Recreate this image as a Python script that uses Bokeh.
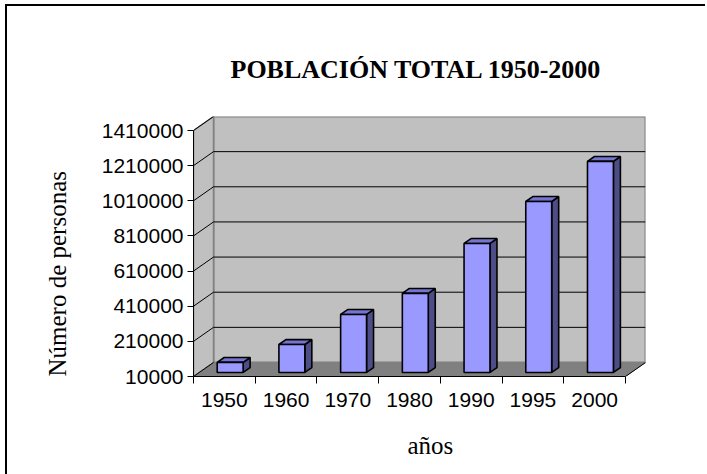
from bokeh.plotting import figure
from bokeh.models import FixedTicker, Range1d, LinearAxis, Title, BasicTickFormatter
from bokeh.embed import file_html
from bokeh.resources import INLINE

# ---- data ----
years = ["1950", "1960", "1970", "1980", "1990", "1995", "2000"]
population = [67000, 169000, 340000, 460000, 744000, 983000, 1211000]
y_ticks = [10000, 210000, 410000, 610000, 810000, 1010000, 1210000, 1410000]
title_text = "POBLACIÓN TOTAL 1950-2000"
y_label = "Número de personas"
x_label = "años"

# ---- geometry / style constants ----
n = len(years)
y0, ytop = y_ticks[0], y_ticks[-1]
FRONT_W, FRONT_H = 432, 246          # px of the front plane
DX_PX, DY_PX = 20, 14                # depth offset in px
dxd = DX_PX * n / FRONT_W
dyd = DY_PX * (ytop - y0) / FRONT_H
F0, F1 = 0.29, 0.64                  # bar depth fractions
HW = 0.21                            # bar half width (category units)

p = figure(frame_width=FRONT_W + DX_PX, frame_height=FRONT_H + DY_PX,
           min_border_left=186, min_border_right=60, min_border_top=110, min_border_bottom=60,
           x_range=Range1d(0, n + dxd), y_range=Range1d(y0, ytop + dyd),
           output_backend="svg", toolbar_location=None, x_axis_type=None, y_axis_type=None)
p.outline_line_color = None
p.background_fill_color = "white"
p.border_fill_color = "white"
p.xgrid.visible = False
p.ygrid.visible = False
p.styles = {"border-left": "2px solid black", "border-top": "2px solid black",
            "margin-left": "5px", "margin-top": "4px"}

wall_fill, wall_line = "#C0C0C0", "#808080"
# back wall
p.quad(left=[dxd], right=[n + dxd], bottom=[y0 + dyd], top=[ytop + dyd],
       fill_color=wall_fill, line_color=wall_line, line_width=2)
# side wall
p.patch([0, 0, dxd, dxd], [y0, ytop, ytop + dyd, y0 + dyd],
        fill_color=wall_fill, line_color=wall_line, line_width=1.5)
# floor
p.patch([0, n, n + dxd, dxd], [y0, y0, y0 + dyd, y0 + dyd],
        fill_color="#808080", line_color="#808080", line_width=1)
# gridlines on back wall and side wall
gv = y_ticks[1:-1]
p.segment(x0=[dxd] * len(gv), y0=[v + dyd for v in gv], x1=[n + dxd] * len(gv), y1=[v + dyd for v in gv],
          line_color="black", line_width=1)
p.segment(x0=[0] * len(y_ticks[1:]), y0=y_ticks[1:], x1=[dxd] * len(y_ticks[1:]),
          y1=[v + dyd for v in y_ticks[1:]], line_color="black", line_width=1)
# floor edges
p.segment(x0=[0, n], y0=[y0, y0], x1=[dxd, n + dxd], y1=[y0 + dyd, y0 + dyd],
          line_color="black", line_width=1)

# bars
front_x, front_y, top_x, top_y, side_x, side_y = [], [], [], [], [], []
for i, v in enumerate(population):
    xl, xr = i + 0.5 - HW, i + 0.5 + HW
    a0, a1 = F0 * dxd, F1 * dxd
    b0, b1 = F0 * dyd, F1 * dyd
    front_x.append([xl + a0, xr + a0, xr + a0, xl + a0])
    front_y.append([y0 + b0, y0 + b0, v + b0, v + b0])
    top_x.append([xl + a0, xr + a0, xr + a1, xl + a1])
    top_y.append([v + b0, v + b0, v + b1, v + b1])
    side_x.append([xr + a0, xr + a1, xr + a1, xr + a0])
    side_y.append([y0 + b0, y0 + b1, v + b1, v + b0])
p.patches(side_x, side_y, fill_color="#4D4D87", line_color="black", line_width=1.6)
p.patches(top_x, top_y, fill_color="#7575D1", line_color="black", line_width=1.6)
p.patches(front_x, front_y, fill_color="#9999FF", line_color="black", line_width=1.6)

# axes
yaxis = LinearAxis(ticker=FixedTicker(ticks=y_ticks, minor_ticks=[]), bounds=(y0, ytop),
                   formatter=BasicTickFormatter(use_scientific=False))
yaxis.major_tick_out = 6
yaxis.major_tick_in = 0
yaxis.minor_tick_out = 0
yaxis.major_label_standoff = 4
yaxis.major_label_text_font = "Liberation Sans"
yaxis.major_label_text_font_size = "21px"
yaxis.major_label_text_color = "black"
yaxis.axis_line_color = "black"
yaxis.major_tick_line_color = "black"
p.add_layout(yaxis, "left")

centers = [i + 0.5 for i in range(n)]
xaxis = LinearAxis(ticker=FixedTicker(ticks=centers, minor_ticks=list(range(n + 1))), bounds=(0, n))
xaxis.major_label_overrides = {c: y for c, y in zip(centers, years)}
xaxis.major_tick_out = 0
xaxis.major_tick_in = 0
xaxis.minor_tick_out = 7
xaxis.minor_tick_in = 0
xaxis.minor_tick_line_color = "black"
xaxis.major_label_standoff = 9
xaxis.major_label_text_font = "Liberation Sans"
xaxis.major_label_text_font_size = "21px"
xaxis.major_label_text_color = "black"
xaxis.axis_line_color = "black"
p.add_layout(xaxis, "below")

# texts
p.add_layout(Title(text=y_label, align="left", offset=0, standoff=56,
                   text_font="Liberation Serif", text_font_style="normal", text_font_size="25px",
                   text_color="black"), "left")
p.add_layout(Title(text=x_label, align="left", offset=214, standoff=41,
                   text_font="Liberation Serif", text_font_style="normal", text_font_size="25px",
                   text_color="black"), "below")
p.add_layout(Title(text=title_text, align="left", offset=37, standoff=65,
                   text_font="Liberation Serif", text_font_style="bold", text_font_size="26px",
                   text_color="black"), "above")

open("out.html", "w").write(file_html(p, INLINE))
